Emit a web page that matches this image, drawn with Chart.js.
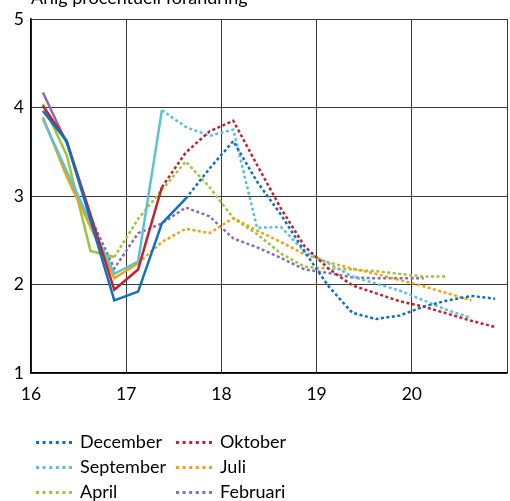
<!DOCTYPE html>
<html>
<head>
<meta charset="utf-8">
<script src="https://cdn.jsdelivr.net/npm/chart.js@4.4.1/dist/chart.umd.min.js"></script>
<style>
  html, body { margin: 0; padding: 0; background: #fff; }
  canvas { display: block; }
</style>
</head>
<body>
<canvas id="myChart" width="510" height="501"></canvas>
<script>
'use strict';

// quarter mid-points, 2016 Q1 .. 2020 Q4
var quarters = [16.125, 16.375, 16.625, 16.875, 17.125, 17.375, 17.625, 17.875,
  18.125, 18.375, 18.625, 18.875, 19.125, 19.375, 19.625, 19.875,
  20.125, 20.375, 20.625, 20.875];
var tickLabels = ['16', '17', '18', '19', '20'];
var titleText = 'Årlig procentuell förändring';

var december = [3.96, 3.62, 2.73, 1.82, 1.92, 2.69, 2.97, 3.31, 3.62, 3.16,
  2.79, 2.37, 1.98, 1.68, 1.61, 1.65, 1.75, 1.82, 1.87, 1.84];
var oktober = [4.02, 3.62, 2.79, 1.94, 2.17, 3.10, 3.49, 3.73, 3.85, 3.35,
  2.86, 2.43, 2.18, 1.99, 1.90, 1.81, 1.75, 1.67, 1.59, 1.52];
var september = [3.87, 3.28, 2.70, 2.12, 2.26, 3.97, 3.78, 3.68, 3.75, 2.64,
  2.65, 2.37, 2.24, 2.09, 2.01, 1.93, 1.82, 1.71, 1.62, null];
var juli = [3.89, 3.22, 2.65, 2.07, 2.24, 2.48, 2.63, 2.58, 2.75, 2.61,
  2.48, 2.34, 2.25, 2.18, 2.12, 2.05, 1.98, 1.90, 1.82, null];
var april = [4.04, 3.46, 2.38, 2.31, 2.74, 3.07, 3.39, 3.10, 2.75, 2.57,
  2.35, 2.20, 2.18, 2.17, 2.15, 2.12, 2.09, 2.09, null, null];
var februari = [4.17, 3.60, 2.76, 2.18, 2.58, 2.69, 2.87, 2.77, 2.52, 2.42,
  2.30, 2.17, 2.13, 2.08, 2.07, 2.07, 2.07, null, null, null];

// number of outcome (solid) points in each series
var outcomeCount = { december: 7, oktober: 6, september: 6, juli: 5, april: 4, februari: 3 };

var FONT = 'Lato, "Open Sans", sans-serif';

function makeSeries(label, values, color, nSolid) {
  var pts = [];
  for (var i = 0; i < values.length; i++) {
    if (values[i] !== null) pts.push({ x: quarters[i], y: values[i] });
  }
  return {
    label: label,
    data: pts,
    borderColor: color,
    backgroundColor: color,
    borderWidth: 2.5,
    borderDash: [3, 2.5],
    pointRadius: 0,
    tension: 0,
    segment: {
      borderDash: function (ctx) { return ctx.p0DataIndex < nSolid - 1 ? [] : undefined; }
    }
  };
}

var datasets = [
  makeSeries('December', december, '#1070C0', outcomeCount.december),
  makeSeries('Oktober', oktober, '#C0242E', outcomeCount.oktober),
  makeSeries('September', september, '#5BC2D4', outcomeCount.september),
  makeSeries('Juli', juli, '#F5A10C', outcomeCount.juli),
  makeSeries('April', april, '#9BC53D', outcomeCount.april),
  makeSeries('Februari', februari, '#8C6BB1', outcomeCount.februari)
];

// title above the plot, cut at the top edge like the original
var titlePlugin = {
  id: 'topTitle',
  afterDraw: function (chart) {
    var ctx = chart.ctx;
    ctx.save();
    ctx.fillStyle = '#000';
    ctx.font = '18px ' + FONT;
    ctx.textBaseline = 'alphabetic';
    ctx.fillText(titleText, chart.chartArea.left, 4);
    ctx.restore();
  }
};

// two-column legend under the chart
var legendPlugin = {
  id: 'colLegend',
  afterDraw: function (chart) {
    var ctx = chart.ctx;
    var rows = [442.5, 467.5, 492.5];
    var cols = [36, 176];
    ctx.save();
    ctx.font = '18px ' + FONT;
    ctx.textBaseline = 'middle';
    chart.data.datasets.forEach(function (ds, i) {
      var x = cols[i % 2];
      var y = rows[Math.floor(i / 2)];
      ctx.strokeStyle = ds.borderColor;
      ctx.lineWidth = 3;
      ctx.setLineDash([3, 3.6]);
      ctx.beginPath();
      ctx.moveTo(x, y);
      ctx.lineTo(x + 36, y);
      ctx.stroke();
      ctx.fillStyle = '#000';
      ctx.fillText(ds.label, x + 44, y);
    });
    ctx.restore();
  }
};

var canavas = document.getElementById('myChart').getContext('2d');

var chart = new Chart(canavas, {
  type: 'line',
  data: { datasets: datasets },
  options: {
    responsive: false,
    animation: false,
    devicePixelRatio: 1,
    layout: { padding: { left: 0, right: 3, top: 19, bottom: 0 } },
    plugins: {
      legend: { display: false },
      tooltip: { enabled: false }
    },
    scales: {
      x: {
        type: 'linear',
        min: 16,
        max: 21,
        afterFit: function (scale) {
          scale.height = 128;
          scale.paddingLeft = 0;
          scale.paddingRight = 0;
        },
        afterBuildTicks: function (scale) {
          scale.ticks = [16, 17, 18, 19, 20, 21].map(function (v) { return { value: v }; });
        },
        ticks: {
          color: '#000',
          font: { family: FONT, size: 17.5 },
          padding: 11,
          maxRotation: 0,
          autoSkip: false,
          callback: function (v) { return tickLabels[v - 16] || ''; }
        },
        grid: { color: '#3a3a3a', lineWidth: 1, drawTicks: false },
        border: { display: true, color: '#000', width: 1.5 }
      },
      y: {
        min: 1,
        max: 5,
        afterFit: function (scale) {
          scale.width = 31;
          scale.paddingTop = 0;
          scale.paddingBottom = 0;
        },
        ticks: {
          stepSize: 1,
          color: '#000',
          font: { family: FONT, size: 17.5 },
          padding: 7
        },
        grid: { color: '#3a3a3a', lineWidth: 1, drawTicks: false },
        border: { display: true, color: '#000', width: 1.5 }
      }
    }
  },
  plugins: [titlePlugin, legendPlugin]
});
</script>
</body>
</html>
